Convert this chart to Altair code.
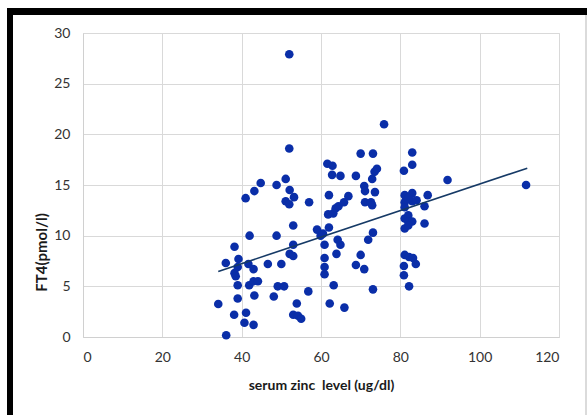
import altair as alt
import pandas as pd

# serum zinc level (ug/dl)
zinc = [34.1, 36.1, 36.0, 38.2, 38.2, 38.5, 39.2, 39.0, 39.0, 39.0, 38.1, 41.0, 41.1, 40.7,
        43.0, 42.0, 41.7, 41.9, 43.0, 43.0, 44.1, 43.2, 43.2, 44.8, 46.6, 48.1, 48.8, 48.8,
        49.1, 50.0, 50.7, 51.1, 51.1, 52.0, 52.0, 52.1, 52.0, 53.2, 53.0, 53.0, 52.1, 53.0,
        53.0, 53.9, 54.2, 55.0, 56.8, 57.0, 59.0, 59.9, 60.5, 60.9, 60.9, 60.9, 60.9, 61.6,
        62.0, 61.8, 62.0, 62.9, 62.8, 63.1, 63.2, 62.2, 63.7, 64.4, 63.9, 64.2, 64.9, 64.9,
        65.8, 66.9, 65.9, 68.8, 68.8, 70.0, 70.0, 70.9, 70.9, 71.1, 71.1, 71.9, 72.6, 72.9,
        72.9, 73.1, 73.1, 73.1, 73.5, 74.1, 73.6, 75.9, 80.9, 81.1, 81.1, 81.1, 81.1, 81.1,
        81.1, 80.9, 80.9, 82.2, 82.0, 82.0, 82.2, 83.0, 83.0, 83.0, 83.0, 83.0, 83.2, 83.9,
        84.1, 86.1, 86.1, 86.9, 91.9, 111.7, 82.0, 82.0]
# FT4 (pmol/l)
ft4 = [3.25, 0.17, 7.3, 8.9, 6.3, 6.0, 7.7, 6.9, 5.1, 3.8, 2.2, 13.7, 2.4, 1.4,
       1.2, 10.0, 7.2, 5.1, 6.7, 5.5, 5.5, 4.1, 14.4, 15.2, 7.2, 4.0, 15.0, 10.0,
       5.0, 7.2, 5.0, 15.6, 13.4, 27.9, 18.6, 14.5, 13.1, 13.8, 11.0, 9.1, 8.2, 8.0,
       2.2, 3.3, 2.1, 1.8, 4.5, 13.3, 10.6, 10.0, 10.2, 9.1, 7.8, 6.9, 6.2, 17.1,
       14.0, 12.1, 10.8, 16.9, 16.0, 12.2, 5.1, 3.3, 12.7, 12.9, 8.2, 9.6, 9.1, 15.9,
       13.3, 13.9, 2.9, 15.9, 7.1, 18.1, 8.1, 6.7, 14.9, 14.4, 13.3, 9.6, 13.3, 13.0,
       15.6, 18.1, 10.3, 4.7, 16.3, 16.6, 14.3, 21.0, 16.4, 14.0, 13.3, 12.8, 11.7, 10.7,
       8.1, 7.0, 6.1, 5.0, 12.0, 11.4, 7.9, 18.2, 17.0, 14.2, 13.4, 11.4, 7.8, 7.2,
       13.5, 12.9, 11.2, 14.0, 15.5, 15.0, 13.7, 11.0]

# linear trend line end points
trend_x = [34.1, 112.0]
trend_y = [6.47, 16.66]

x_ticks = [0, 20, 40, 60, 80, 100, 120]
y_ticks = [0, 5, 10, 15, 20, 25, 30]

df = pd.DataFrame({"zinc": zinc, "ft4": ft4})
tdf = pd.DataFrame({"zinc": trend_x, "ft4": trend_y})

FONT = "Lato"

xs = alt.Scale(domain=[0, 120], nice=False, zero=False)
ys = alt.Scale(domain=[0, 30], nice=False, zero=False)

xaxis = alt.Axis(values=x_ticks, title="serum zinc\u00a0 level (ug/dl)", grid=True,
                 gridColor="#d9d9d9", domainColor="#d0d0d0", ticks=False,
                 labelFont=FONT, labelFontSize=14, labelColor="#333333", labelPadding=13,
                 titleFont=FONT, titleFontSize=14, titleFontWeight="bold", titleColor="#1a1a1a",
                 titleBaseline="alphabetic", titleY=52)
yaxis = alt.Axis(values=y_ticks, title="FT4(pmol/l)", grid=True,
                 gridColor="#d9d9d9", domainColor="#d0d0d0", ticks=False,
                 labelFont=FONT, labelFontSize=14, labelColor="#333333", labelPadding=13,
                 titleFont=FONT, titleFontSize=15, titleFontWeight="bold", titleColor="#1a1a1a",
                 titleAngle=-90, titleAlign="center", titleBaseline="middle",
                 titleX=-42, titleY=219)

points = alt.Chart(df).mark_circle(size=74, color="#0a2ea8", opacity=1).encode(
    x=alt.X("zinc:Q", scale=xs, axis=xaxis),
    y=alt.Y("ft4:Q", scale=ys, axis=yaxis),
)

trend = alt.Chart(tdf).mark_line(color="#163a66", strokeWidth=1.6).encode(
    x=alt.X("zinc:Q", scale=xs),
    y=alt.Y("ft4:Q", scale=ys),
)

# decorative black frame (top and left bands) and thin right edge
frame_top = alt.Chart(tdf).mark_rule(color="black", strokeWidth=7).encode(
    x=alt.value(-76), x2=alt.value(504), y=alt.value(-21.5))
frame_left = alt.Chart(tdf).mark_rule(color="black", strokeWidth=6).encode(
    x=alt.value(-73), y=alt.value(-25), y2=alt.value(382))
frame_right = alt.Chart(tdf).mark_rule(color="#cfcfcf", strokeWidth=1).encode(
    x=alt.value(503), y=alt.value(-18), y2=alt.value(382))

chart = alt.layer(points, trend, frame_top, frame_left, frame_right).properties(
    width=476, height=304,
    autosize=alt.AutoSizeParams(type="none"),
    padding={"left": 83, "top": 33, "right": 28, "bottom": 78},
).configure_view(stroke=None).configure(background="white")

chart.save("out.html", embed_options={"renderer": "svg", "actions": False})
